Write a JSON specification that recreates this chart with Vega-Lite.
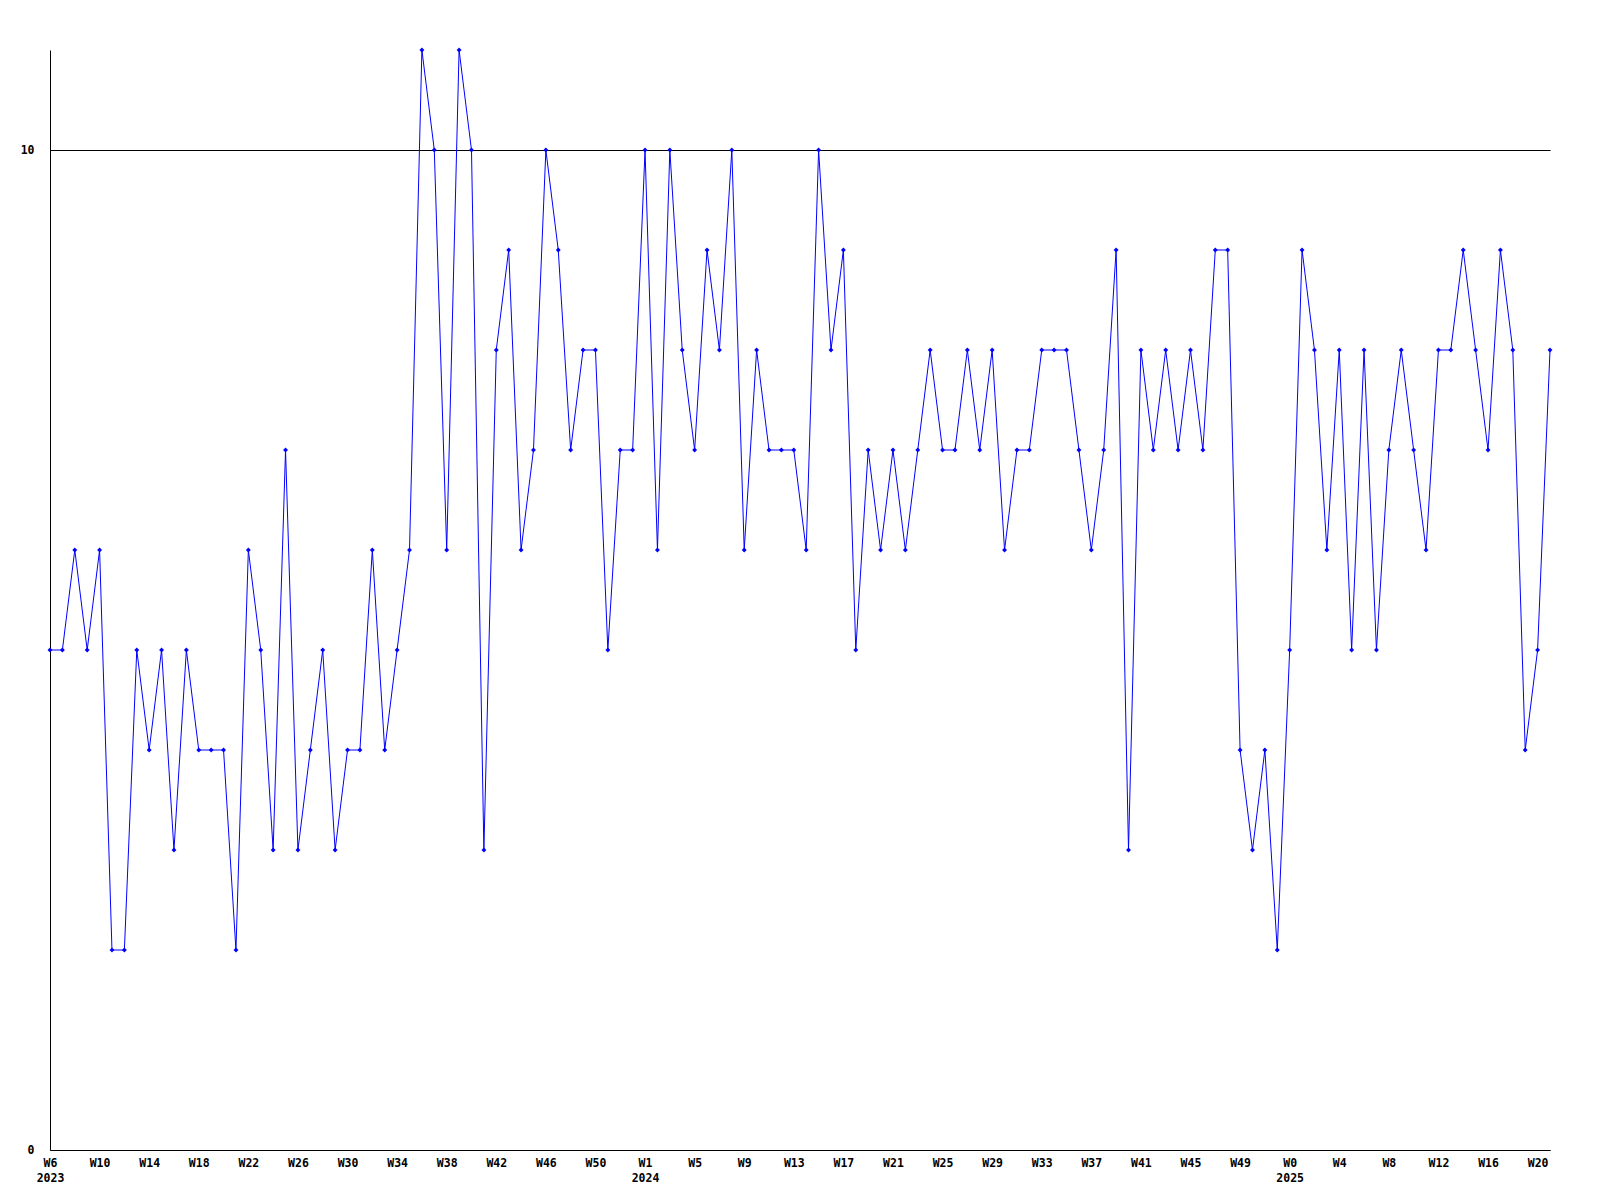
{
  "$schema": "https://vega.github.io/schema/vega-lite/v6.json",
  "width": 1500,
  "height": 1100,
  "autosize": {"type": "none"},
  "padding": {"left": 50, "top": 50, "right": 50, "bottom": 50},
  "background": "white",
  "config": {
    "view": {"stroke": null},
    "axis": {
      "labelFont": "DejaVu Sans Mono",
      "labelFontWeight": "bold",
      "labelFontSize": 11.5,
      "labelColor": "black",
      "domainColor": "black",
      "domainWidth": 1,
      "ticks": false,
      "title": null
    }
  },
  "data": {
    "values": [
      {"key": "2023-W06", "count": 5}, {"key": "2023-W07", "count": 5}, {"key": "2023-W08", "count": 6}, {"key": "2023-W09", "count": 5},
      {"key": "2023-W10", "count": 6}, {"key": "2023-W11", "count": 2}, {"key": "2023-W12", "count": 2}, {"key": "2023-W13", "count": 5},
      {"key": "2023-W14", "count": 4}, {"key": "2023-W15", "count": 5}, {"key": "2023-W16", "count": 3}, {"key": "2023-W17", "count": 5},
      {"key": "2023-W18", "count": 4}, {"key": "2023-W19", "count": 4}, {"key": "2023-W20", "count": 4}, {"key": "2023-W21", "count": 2},
      {"key": "2023-W22", "count": 6}, {"key": "2023-W23", "count": 5}, {"key": "2023-W24", "count": 3}, {"key": "2023-W25", "count": 7},
      {"key": "2023-W26", "count": 3}, {"key": "2023-W27", "count": 4}, {"key": "2023-W28", "count": 5}, {"key": "2023-W29", "count": 3},
      {"key": "2023-W30", "count": 4}, {"key": "2023-W31", "count": 4}, {"key": "2023-W32", "count": 6}, {"key": "2023-W33", "count": 4},
      {"key": "2023-W34", "count": 5}, {"key": "2023-W35", "count": 6}, {"key": "2023-W36", "count": 11}, {"key": "2023-W37", "count": 10},
      {"key": "2023-W38", "count": 6}, {"key": "2023-W39", "count": 11}, {"key": "2023-W40", "count": 10}, {"key": "2023-W41", "count": 3},
      {"key": "2023-W42", "count": 8}, {"key": "2023-W43", "count": 9}, {"key": "2023-W44", "count": 6}, {"key": "2023-W45", "count": 7},
      {"key": "2023-W46", "count": 10}, {"key": "2023-W47", "count": 9}, {"key": "2023-W48", "count": 7}, {"key": "2023-W49", "count": 8},
      {"key": "2023-W50", "count": 8}, {"key": "2023-W51", "count": 5}, {"key": "2023-W52", "count": 7}, {"key": "2023-W53", "count": 7},
      {"key": "2024-W01", "count": 10}, {"key": "2024-W02", "count": 6}, {"key": "2024-W03", "count": 10}, {"key": "2024-W04", "count": 8},
      {"key": "2024-W05", "count": 7}, {"key": "2024-W06", "count": 9}, {"key": "2024-W07", "count": 8}, {"key": "2024-W08", "count": 10},
      {"key": "2024-W09", "count": 6}, {"key": "2024-W10", "count": 8}, {"key": "2024-W11", "count": 7}, {"key": "2024-W12", "count": 7},
      {"key": "2024-W13", "count": 7}, {"key": "2024-W14", "count": 6}, {"key": "2024-W15", "count": 10}, {"key": "2024-W16", "count": 8},
      {"key": "2024-W17", "count": 9}, {"key": "2024-W18", "count": 5}, {"key": "2024-W19", "count": 7}, {"key": "2024-W20", "count": 6},
      {"key": "2024-W21", "count": 7}, {"key": "2024-W22", "count": 6}, {"key": "2024-W23", "count": 7}, {"key": "2024-W24", "count": 8},
      {"key": "2024-W25", "count": 7}, {"key": "2024-W26", "count": 7}, {"key": "2024-W27", "count": 8}, {"key": "2024-W28", "count": 7},
      {"key": "2024-W29", "count": 8}, {"key": "2024-W30", "count": 6}, {"key": "2024-W31", "count": 7}, {"key": "2024-W32", "count": 7},
      {"key": "2024-W33", "count": 8}, {"key": "2024-W34", "count": 8}, {"key": "2024-W35", "count": 8}, {"key": "2024-W36", "count": 7},
      {"key": "2024-W37", "count": 6}, {"key": "2024-W38", "count": 7}, {"key": "2024-W39", "count": 9}, {"key": "2024-W40", "count": 3},
      {"key": "2024-W41", "count": 8}, {"key": "2024-W42", "count": 7}, {"key": "2024-W43", "count": 8}, {"key": "2024-W44", "count": 7},
      {"key": "2024-W45", "count": 8}, {"key": "2024-W46", "count": 7}, {"key": "2024-W47", "count": 9}, {"key": "2024-W48", "count": 9},
      {"key": "2024-W49", "count": 4}, {"key": "2024-W50", "count": 3}, {"key": "2024-W51", "count": 4}, {"key": "2024-W52", "count": 2},
      {"key": "2025-W00", "count": 5}, {"key": "2025-W01", "count": 9}, {"key": "2025-W02", "count": 8}, {"key": "2025-W03", "count": 6},
      {"key": "2025-W04", "count": 8}, {"key": "2025-W05", "count": 5}, {"key": "2025-W06", "count": 8}, {"key": "2025-W07", "count": 5},
      {"key": "2025-W08", "count": 7}, {"key": "2025-W09", "count": 8}, {"key": "2025-W10", "count": 7}, {"key": "2025-W11", "count": 6},
      {"key": "2025-W12", "count": 8}, {"key": "2025-W13", "count": 8}, {"key": "2025-W14", "count": 9}, {"key": "2025-W15", "count": 8},
      {"key": "2025-W16", "count": 7}, {"key": "2025-W17", "count": 9}, {"key": "2025-W18", "count": 8}, {"key": "2025-W19", "count": 4},
      {"key": "2025-W20", "count": 5}, {"key": "2025-W21", "count": 8}
    ]
  },
  "encoding": {
    "x": {
      "field": "key",
      "type": "ordinal",
      "sort": null,
      "scale": {"type": "point", "padding": 0},
      "axis": {
        "values": [
          "2023-W06", "2023-W10", "2023-W14", "2023-W18", "2023-W22", "2023-W26", "2023-W30", "2023-W34", "2023-W38", "2023-W42", "2023-W46", "2023-W50",
          "2024-W01", "2024-W05", "2024-W09", "2024-W13", "2024-W17", "2024-W21", "2024-W25", "2024-W29", "2024-W33", "2024-W37", "2024-W41", "2024-W45", "2024-W49",
          "2025-W00", "2025-W04", "2025-W08", "2025-W12", "2025-W16", "2025-W20"
        ],
        "labelExpr": "['W' + toNumber(substring(datum.value, 6)), (datum.value == '2023-W06' || toNumber(substring(datum.value, 6)) < 4) ? substring(datum.value, 0, 4) : '']",
        "labelAngle": 0,
        "labelAlign": "center",
        "labelBaseline": "top",
        "labelPadding": 7,
        "labelDx": -3,
        "labelLineHeight": 15,
        "labelFlush": false,
        "labelOverlap": false,
        "grid": false
      }
    },
    "y": {
      "field": "count",
      "type": "quantitative",
      "scale": {"domain": [0, 11], "nice": false, "zero": true},
      "axis": {
        "values": [0, 10],
        "grid": true,
        "gridColor": "black",
        "gridOpacity": 1,
        "gridWidth": 1,
        "labelPadding": 16,
        "labelBaseline": "middle"
      }
    }
  },
  "layer": [
    {"mark": {"type": "line", "color": "#0000ff", "strokeWidth": 1}},
    {"mark": {"type": "point", "shape": "diamond", "filled": true, "color": "#0000ff", "size": 24, "opacity": 1}}
  ]
}
